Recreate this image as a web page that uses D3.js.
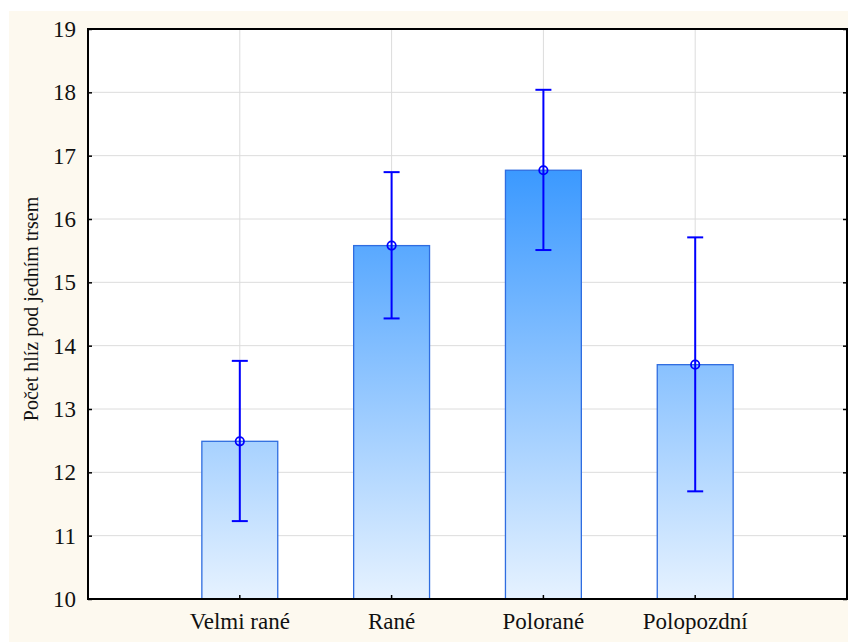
<!DOCTYPE html>
<html>
<head>
<meta charset="utf-8">
<script src="https://cdn.jsdelivr.net/npm/d3@7"></script>
<style>
  html, body { margin: 0; padding: 0; background: #ffffff; }
  svg { display: block; }
</style>
</head>
<body>
<script>
// Mean tuber count per plant by earliness group, with error bars
const categories = ["Velmi rané", "Rané", "Polorané", "Polopozdní"];
const means      = [12.49, 15.58, 16.77, 13.70];
const lower      = [11.23, 14.43, 15.51, 11.70];
const upper      = [13.76, 16.74, 18.04, 15.71];
const yTicks     = [10, 11, 12, 13, 14, 15, 16, 17, 18, 19];
const yTitle     = "Počet hlíz pod jedním trsem";

const W = 848, H = 642;
const plot = { left: 88, right: 847, top: 29, bottom: 599 };
const fontFamily = "'Liberation Serif', 'Times New Roman', Times, serif";

const svg = d3.select("body").append("svg")
  .attr("width", W).attr("height", H);

// cream page background
svg.append("rect")
  .attr("x", 9).attr("y", 11)
  .attr("width", W - 9).attr("height", H - 11)
  .attr("fill", "#fdf9ef");

// white plotting area
svg.append("rect")
  .attr("x", plot.left).attr("y", plot.top)
  .attr("width", plot.right - plot.left).attr("height", plot.bottom - plot.top)
  .attr("fill", "#ffffff");

const x = d3.scaleBand()
  .domain(categories)
  .range([plot.left, plot.right])
  .paddingInner(0.5)
  .paddingOuter(0.75);

const y = d3.scaleLinear()
  .domain([10, 19])
  .range([plot.bottom, plot.top]);

// vertical gradient shared by all bars
const defs = svg.append("defs");
const grad = defs.append("linearGradient")
  .attr("id", "barFill")
  .attr("gradientUnits", "userSpaceOnUse")
  .attr("x1", 0).attr("x2", 0)
  .attr("y1", y(d3.max(means))).attr("y2", y(10));
grad.append("stop").attr("offset", "0%").attr("stop-color", "#3b99ff");
grad.append("stop").attr("offset", "100%").attr("stop-color", "#e6f2ff");

// grid lines
const grid = svg.append("g");
grid.selectAll("line.h")
  .data(yTicks.slice(1, -1))
  .join("line")
  .attr("x1", plot.left).attr("x2", plot.right)
  .attr("y1", d => y(d)).attr("y2", d => y(d))
  .attr("stroke", "#dcdcdc").attr("stroke-width", 1);
grid.selectAll("line.v")
  .data(categories)
  .join("line")
  .attr("x1", d => x(d) + x.bandwidth() / 2)
  .attr("x2", d => x(d) + x.bandwidth() / 2)
  .attr("y1", plot.top).attr("y2", plot.bottom)
  .attr("stroke", "#dcdcdc").attr("stroke-width", 1);

// bars
svg.append("g").selectAll("rect")
  .data(categories)
  .join("rect")
  .attr("x", d => x(d))
  .attr("width", x.bandwidth())
  .attr("y", (d, i) => y(means[i]))
  .attr("height", (d, i) => y(10) - y(means[i]))
  .attr("fill", "url(#barFill)")
  .attr("stroke", "#2f6de0")
  .attr("stroke-width", 1.3);

// error bars
const eb = svg.append("g")
  .attr("stroke", "#0000ff")
  .attr("stroke-width", 2)
  .attr("fill", "none");
const cx = d => x(d) + x.bandwidth() / 2;
const capHalf = 8;
eb.selectAll("line.whisker")
  .data(categories)
  .join("line")
  .attr("x1", cx).attr("x2", cx)
  .attr("y1", (d, i) => y(lower[i])).attr("y2", (d, i) => y(upper[i]));
eb.selectAll("line.capTop")
  .data(categories)
  .join("line")
  .attr("x1", d => cx(d) - capHalf).attr("x2", d => cx(d) + capHalf)
  .attr("y1", (d, i) => y(upper[i])).attr("y2", (d, i) => y(upper[i]));
eb.selectAll("line.capBot")
  .data(categories)
  .join("line")
  .attr("x1", d => cx(d) - capHalf).attr("x2", d => cx(d) + capHalf)
  .attr("y1", (d, i) => y(lower[i])).attr("y2", (d, i) => y(lower[i]));
eb.selectAll("circle")
  .data(categories)
  .join("circle")
  .attr("cx", cx)
  .attr("cy", (d, i) => y(means[i]))
  .attr("r", 4.2)
  .attr("stroke-width", 1.8);

// axes: inward ticks
const axisStyle = size => g => {
  g.attr("font-family", null).attr("font-size", null);
  g.select(".domain").remove();
  g.selectAll(".tick line").attr("stroke", "#000").attr("stroke-width", 1.5);
  g.selectAll(".tick text")
    .attr("fill", "#111")
    .style("font-family", fontFamily)
    .style("font-size", size + "px");
};

svg.append("g")
  .attr("transform", `translate(${plot.left},0)`)
  .call(d3.axisLeft(y).tickValues(yTicks).tickSize(-4).tickPadding(12).tickFormat(d3.format("d")))
  .call(axisStyle(23));

svg.append("g")
  .attr("transform", `translate(${plot.right},0)`)
  .call(d3.axisRight(y).tickValues(yTicks).tickSize(-4).tickFormat(""))
  .call(axisStyle(23));

svg.append("g")
  .attr("transform", `translate(0,${plot.bottom})`)
  .call(d3.axisBottom(x).tickSize(-4).tickPadding(14))
  .call(axisStyle(23));

// frame
svg.append("rect")
  .attr("x", plot.left).attr("y", plot.top)
  .attr("width", plot.right - plot.left).attr("height", plot.bottom - plot.top)
  .attr("fill", "none")
  .attr("stroke", "#000")
  .attr("stroke-width", 2);

// y axis title
svg.append("text")
  .attr("transform", `translate(38,${(plot.top + plot.bottom) / 2 - 5}) rotate(-90)`)
  .attr("text-anchor", "middle")
  .attr("fill", "#111")
  .style("font-family", fontFamily)
  .style("font-size", "20px")
  .text(yTitle);
</script>
</body>
</html>
